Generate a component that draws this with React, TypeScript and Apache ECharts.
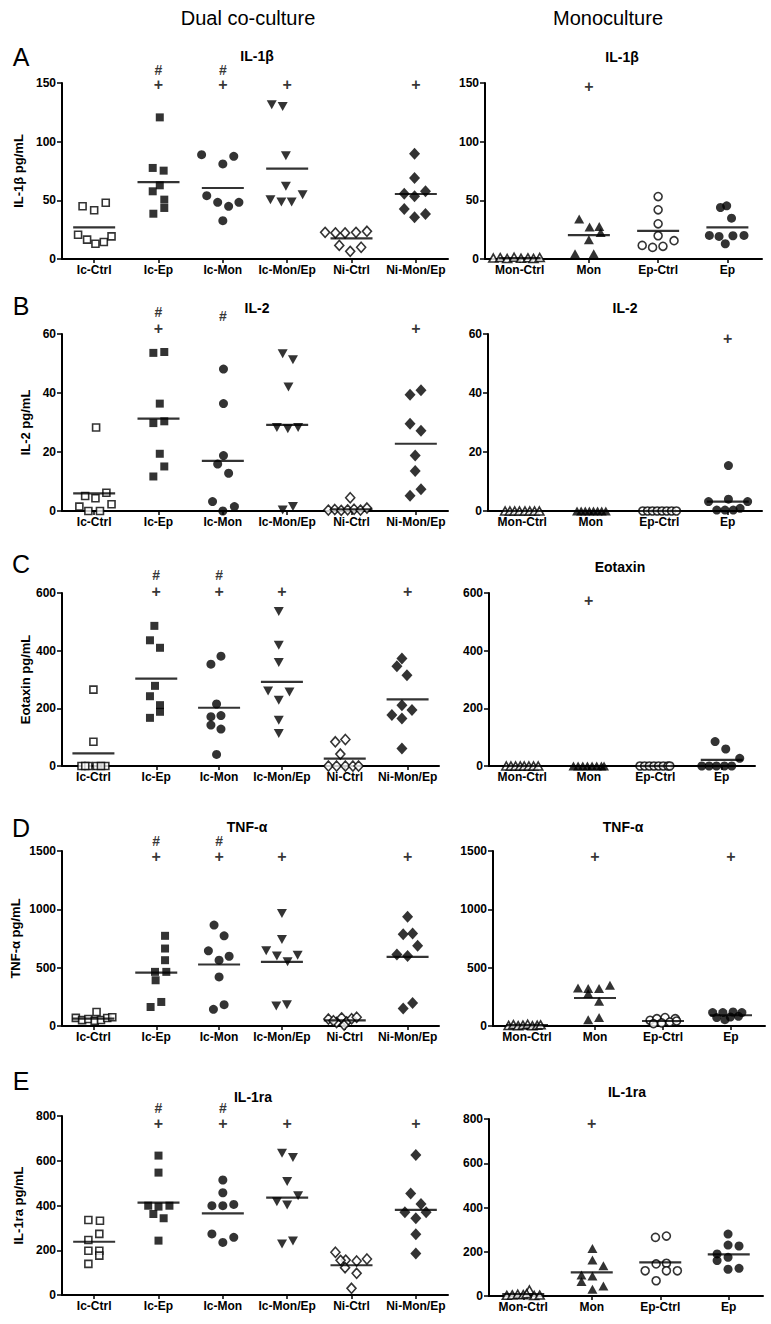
import React, { useEffect, useRef } from 'react';
import * as echarts from 'echarts';

// ---------- categories ----------
const dualCategories = ['Ic-Ctrl', 'Ic-Ep', 'Ic-Mon', 'Ic-Mon/Ep', 'Ni-Ctrl', 'Ni-Mon/Ep'];
const monoCategories = ['Mon-Ctrl', 'Mon', 'Ep-Ctrl', 'Ep'];

// ---------- A: IL-1β ----------
const il1bDualValues = [
  [44.9, 41.5, 48, 20.7, 16.5, 13, 14.5, 19.3],
  [120.7, 77.6, 75.3, 62.8, 57.7, 50.6, 38.6, 43.5],
  [88.9, 87.5, 81, 54, 48.3, 44.9, 48.3, 32.7],
  [131.5, 130, 88, 62, 50.6, 48.6, 48.6, 54.8],
  [22.7, 22.2, 22.2, 22.7, 23.6, 11.6, 6.5, 10],
  [89.8, 69, 55.7, 53.4, 57.7, 42.6, 35.5, 38.4],
];
const il1bDualJitter = [
  [-0.18, 0.0, 0.18, -0.25, -0.11, 0.02, 0.15, 0.27],
  [0.02, -0.09, 0.08, 0.02, -0.09, 0.09, -0.08, 0.09],
  [-0.33, 0.17, 0, -0.25, -0.08, 0.09, 0.25, 0],
  [-0.24, -0.07, -0.02, -0.02, -0.26, -0.09, 0.07, 0.24],
  [-0.41, -0.25, -0.1, 0.07, 0.24, -0.19, -0.02, 0.15],
  [-0.02, -0.02, -0.18, -0.02, 0.15, -0.18, -0.02, 0.15],
];
const il1bDualMeans = [27, 65.6, 60.5, 77, 17.6, 55.4];
const il1bDualPlus = [null, 149, 149, 149, null, 149];
const il1bDualHash = [null, 161, 161, null, null, null];

const il1bMonoValues = [
  [0.8, 1.2, 0.4, 1.5, 0.6, 1.0, 0.5, 1.3],
  [34, 27.2, 27.7, 22.6, 16.4, 4.5, 4.5],
  [53.2, 41.9, 30, 19.8, 11.6, 9.9, 10.8, 15.6],
  [43.9, 45.3, 34.8, 20.1, 19.2, 19.8, 20.1, 13],
];
const il1bMonoJitter = [
  [-0.38, -0.28, -0.18, -0.08, 0.02, 0.12, 0.2, 0.29],
  [-0.14, 0.01, 0.15, 0.17, 0.0, -0.2, 0.07],
  [0, 0, 0, 0, -0.23, -0.08, 0.07, 0.23],
  [-0.1, -0.01, 0.06, -0.26, -0.12, 0.08, 0.24, -0.03],
];
const il1bMonoMeans = [0.8, 20.4, 24, 26.9];
const il1bMonoPlus = [null, 146.6, null, null];
const il1bMonoHash = [null, null, null, null];

// ---------- B: IL-2 ----------
const il2DualValues = [
  [28.3, 5.1, 4.3, 6.2, 1.5, 0, 0, 2.3],
  [53.6, 53.9, 36.4, 29.8, 30.4, 19.4, 15.1, 11.7],
  [48.1, 36.4, 18.8, 15.9, 12.8, 3.2, 0, 1.5],
  [53.3, 51.3, 42, 28.3, 27.9, 28.3, 0.3, 1.5],
  [4.5, 0.3, 0.5, 0.2, 0.4, 0.6, 0.3, 1.0],
  [39.4, 40.9, 29.6, 27.2, 18.8, 13.6, 7.4, 5.2],
];
const il2DualJitter = [
  [0.03, -0.14, 0.02, 0.19, -0.23, -0.09, 0.09, 0.27],
  [-0.08, 0.09, 0.02, -0.08, 0.09, 0.02, 0.09, -0.08],
  [0.01, 0.01, 0.01, -0.08, 0.09, -0.16, 0, 0.18],
  [-0.07, 0.09, 0.02, -0.16, 0.01, 0.17, -0.07, 0.09],
  [-0.02, -0.36, -0.26, -0.16, -0.06, 0.04, 0.14, 0.24],
  [-0.09, 0.08, -0.09, 0.08, -0.01, -0.01, 0.08, -0.09],
];
const il2DualMeans = [6, 31.3, 17, 29.2, 0.6, 22.8];
const il2DualPlus = [null, 61.7, null, null, null, 61.7];
const il2DualHash = [null, 67.3, 66, null, null, null];

const il2MonoValues = [
  [0, 0, 0, 0, 0, 0, 0, 0],
  [0, 0, 0, 0, 0, 0, 0, 0],
  [0, 0, 0, 0, 0, 0, 0, 0],
  [15.4, 3.2, 4.0, 3.2, 0.3, 0.3, 0.3, 0.9],
];
const il2MonoJitter = [
  [-0.25, -0.18, -0.11, -0.04, 0.04, 0.11, 0.18, 0.25],
  [-0.2, -0.14, -0.08, -0.02, 0.04, 0.1, 0.16, 0.22],
  [-0.24, -0.17, -0.1, -0.03, 0.04, 0.11, 0.18, 0.25],
  [0.01, -0.28, 0.01, 0.29, -0.16, -0.04, 0.08, 0.18],
];
const il2MonoMeans = [0, 0, 0, 3.2];
const il2MonoPlus = [null, null, null, 58.5];
const il2MonoHash = [null, null, null, null];

// ---------- C: Eotaxin ----------
const eotDualValues = [
  [265, 84, 0, 0, 0, 0, 0, 0],
  [486, 436, 410, 278, 242, 211, 188, 167],
  [353, 381, 215, 171, 175, 142, 128, 40],
  [536, 419, 359, 260, 228, 257, 159, 113],
  [84, 92, 41.5, 0, 0, 0, 0, 0],
  [373, 346, 315, 211, 194, 177, 165, 61],
];
const eotDualJitter = [
  [0, 0, -0.19, -0.08, 0.05, 0.19, -0.13, 0.12],
  [-0.03, -0.1, 0.06, -0.02, -0.1, 0.06, 0.06, -0.1],
  [-0.13, 0.03, -0.04, -0.13, 0.03, -0.13, 0.03, -0.04],
  [-0.05, -0.05, -0.05, -0.22, -0.05, 0.12, -0.05, -0.05],
  [-0.15, 0.01, -0.07, -0.26, -0.13, 0.01, 0.13, 0.22],
  [-0.09, -0.17, -0.01, -0.09, 0.07, -0.25, -0.09, -0.09],
];
const eotDualMeans = [44, 303, 202, 292, 25.4, 231];
const eotDualPlus = [null, 606, 606, 606, null, 606];
const eotDualHash = [null, 661, 661, null, null, null];

const eotMonoValues = [
  [0, 0, 0, 0, 0, 0, 0, 0],
  [0, 0, 0, 0, 0, 0, 0, 0],
  [0, 0, 0, 0, 0, 0, 0, 0],
  [84.6, 59, 26.6, 0, 0, 0, 0, 0],
];
const eotMonoJitter = [
  [-0.24, -0.17, -0.1, -0.03, 0.03, 0.1, 0.17, 0.24],
  [-0.23, -0.16, -0.09, -0.02, 0.05, 0.12, 0.19, 0.23],
  [-0.23, -0.16, -0.09, -0.02, 0.05, 0.12, 0.19, 0.22],
  [-0.1, 0.06, 0.27, -0.3, -0.19, -0.08, 0.04, 0.15],
];
const eotMonoMeans = [0, 0, 0, 21];
const eotMonoPlus = [null, 574.6, null, null];
const eotMonoHash = [null, null, null, null];

// ---------- D: TNF-α ----------
const tnfDualValues = [
  [120, 70, 50, 60, 45, 52, 68, 75],
  [773, 664, 564, 464, 464, 392, 206, 163],
  [865, 773, 644, 598, 564, 421, 143, 183],
  [965, 741, 644, 601, 550, 607, 172, 183],
  [60, 30, 70, 35, 62, 75, 8, 45],
  [936, 787, 793, 687, 613, 601, 198, 149],
];
const tnfDualJitter = [
  [0.05, -0.28, -0.18, -0.08, 0.02, 0.12, 0.22, 0.3],
  [0.14, 0.14, 0.14, -0.02, 0.16, -0.01, 0.08, -0.09],
  [-0.08, 0.08, -0.17, 0.16, 0, 0, -0.09, 0.08],
  [0, 0, -0.25, -0.08, 0.09, 0.25, -0.09, 0.08],
  [-0.26, -0.13, -0.05, 0.03, 0.11, 0.19, -0.01, -0.18],
  [0, -0.07, 0.08, 0.16, -0.17, 0, 0.08, -0.07],
];
const tnfDualMeans = [63, 458, 527, 550, 49, 593];
const tnfDualPlus = [null, 1457, 1457, 1457, null, 1457];
const tnfDualHash = [null, 1586, 1586, null, null, null];

const tnfMonoValues = [
  [5, 12, 3, 8, 15, 2, 6, 10],
  [326, 321, 321, 349, 278, 212, 54, 72],
  [49, 63, 72, 63, 20, 26, 34, 43],
  [115, 115, 120, 115, 72, 54, 77, 83],
];
const tnfMonoJitter = [
  [-0.27, -0.2, -0.13, -0.06, 0.01, 0.08, 0.15, 0.2],
  [-0.25, -0.1, 0.06, 0.22, -0.1, 0.06, -0.1, 0.06],
  [-0.19, -0.09, 0.03, 0.18, -0.14, -0.02, 0.1, 0.2],
  [-0.27, -0.12, 0.03, 0.16, -0.21, -0.09, -0.01, 0.11],
];
const tnfMonoMeans = [7, 240, 43, 92];
const tnfMonoPlus = [null, 1457, null, 1457];
const tnfMonoHash = [null, null, null, null];

// ---------- E: IL-1ra ----------
const il1raDualValues = [
  [335, 332, 273, 246, 198, 198, 176, 139],
  [623, 547, 399, 395, 399, 362, 343, 243],
  [514, 457, 399, 399, 405, 273, 235, 258],
  [633, 615, 507, 417, 402, 444, 228, 241],
  [191, 156, 152, 161, 122, 97, 30, 155],
  [626, 454, 407, 370, 370, 343, 271, 186],
];
const il1raDualJitter = [
  [-0.09, 0.09, 0.08, -0.09, -0.09, 0.08, 0.08, -0.09],
  [0, 0, -0.16, 0, 0.17, -0.08, 0.08, 0],
  [0, 0, -0.17, 0, 0.17, -0.17, 0, 0.17],
  [-0.08, 0.09, 0, -0.16, 0, 0.17, -0.08, 0.09],
  [-0.25, -0.09, 0.08, 0.24, -0.1, 0.08, 0, -0.17],
  [0, -0.08, 0.08, -0.17, 0.16, 0, 0, 0],
];
const il1raDualMeans = [238, 413, 365, 435, 133, 380];
const il1raDualPlus = [null, 767, 767, 767, null, 767];
const il1raDualHash = [null, 835, 835, null, null, null];

const il1raMonoValues = [
  [3, 5, 8, 27, 6, 2, 4, 10],
  [215, 163, 137, 95, 90, 65, 45, 30],
  [265, 271, 114, 145, 148, 114, 114, 69],
  [280, 230, 226, 190, 160, 175, 121, 125],
];
const il1raMonoJitter = [
  [-0.24, -0.16, -0.08, 0.09, 0.0, 0.16, 0.24, 0.05],
  [0.01, 0.01, 0.17, -0.15, 0.01, -0.15, 0.17, 0.01],
  [-0.07, 0.09, -0.22, -0.06, 0.09, 0.09, 0.25, -0.06],
  [-0.01, -0.01, 0.15, -0.17, -0.17, -0.01, -0.01, 0.15],
];
const il1raMonoMeans = [9, 107, 152, 188];
const il1raMonoPlus = [null, 780, null, null];
const il1raMonoHash = [null, null, null, null];

// ---------- styling (not data) ----------
const FONT = 'Arial, "Liberation Sans", Helvetica, sans-serif';

const OPEN = { color: '#ffffff', borderColor: '#000000', borderWidth: 1.6 };
const FILL = { color: '#000000' };

const dualMarkers = [
  { symbol: 'rect', size: 7, rotate: 0, style: OPEN },
  { symbol: 'rect', size: 8, rotate: 0, style: FILL },
  { symbol: 'circle', size: 9, rotate: 0, style: FILL },
  { symbol: 'triangle', size: [10, 9], rotate: 180, style: FILL },
  { symbol: 'diamond', size: [9, 10], rotate: 0, style: OPEN },
  { symbol: 'diamond', size: [11, 12], rotate: 0, style: FILL },
];
const monoMarkers = [
  { symbol: 'triangle', size: [9, 8], rotate: 0, style: OPEN },
  { symbol: 'triangle', size: [10, 9], rotate: 0, style: FILL },
  { symbol: 'circle', size: 8, rotate: 0, style: OPEN },
  { symbol: 'circle', size: 9, rotate: 0, style: FILL },
];

type PanelDef = {
  cats: string[];
  values: number[][];
  jitter: number[][];
  means: number[];
  plus: (number | null)[];
  hash: (number | null)[];
  max: number;
  interval: number;
  yName: string;
  nameGap: number;
  title: string | null;
  titleX: number;
  titleY: number;
  markers: any[];
  left: number;
  top: number;
  width: number;
  height: number;
};

const panels: PanelDef[] = [
  { cats: dualCategories, values: il1bDualValues, jitter: il1bDualJitter, means: il1bDualMeans, plus: il1bDualPlus, hash: il1bDualHash,
    max: 150, interval: 50, yName: 'IL-1β pg/mL', nameGap: 27, title: 'IL-1β', titleX: 257, titleY: 56, markers: dualMarkers,
    left: 62, top: 83, width: 386, height: 176 },
  { cats: monoCategories, values: il1bMonoValues, jitter: il1bMonoJitter, means: il1bMonoMeans, plus: il1bMonoPlus, hash: il1bMonoHash,
    max: 150, interval: 50, yName: '', nameGap: 0, title: 'IL-1β', titleX: 622, titleY: 57, markers: monoMarkers,
    left: 485, top: 83, width: 277, height: 176 },
  { cats: dualCategories, values: il2DualValues, jitter: il2DualJitter, means: il2DualMeans, plus: il2DualPlus, hash: il2DualHash,
    max: 60, interval: 20, yName: 'IL-2 pg/mL', nameGap: 27, title: 'IL-2', titleX: 257, titleY: 308, markers: dualMarkers,
    left: 62, top: 334, width: 386, height: 177 },
  { cats: monoCategories, values: il2MonoValues, jitter: il2MonoJitter, means: il2MonoMeans, plus: il2MonoPlus, hash: il2MonoHash,
    max: 60, interval: 20, yName: '', nameGap: 0, title: 'IL-2', titleX: 625, titleY: 308, markers: monoMarkers,
    left: 488, top: 334, width: 274, height: 177 },
  { cats: dualCategories, values: eotDualValues, jitter: eotDualJitter, means: eotDualMeans, plus: eotDualPlus, hash: eotDualHash,
    max: 600, interval: 200, yName: 'Eotaxin pg/mL', nameGap: 30, title: null, titleX: 0, titleY: 0, markers: dualMarkers,
    left: 62, top: 593, width: 377, height: 173 },
  { cats: monoCategories, values: eotMonoValues, jitter: eotMonoJitter, means: eotMonoMeans, plus: eotMonoPlus, hash: eotMonoHash,
    max: 600, interval: 200, yName: '', nameGap: 0, title: 'Eotaxin', titleX: 620, titleY: 567, markers: monoMarkers,
    left: 489, top: 593, width: 266, height: 173 },
  { cats: dualCategories, values: tnfDualValues, jitter: tnfDualJitter, means: tnfDualMeans, plus: tnfDualPlus, hash: tnfDualHash,
    max: 1500, interval: 500, yName: 'TNF-α pg/mL', nameGap: 40, title: 'TNF-α', titleX: 247, titleY: 827, markers: dualMarkers,
    left: 62, top: 851, width: 377, height: 175 },
  { cats: monoCategories, values: tnfMonoValues, jitter: tnfMonoJitter, means: tnfMonoMeans, plus: tnfMonoPlus, hash: tnfMonoHash,
    max: 1500, interval: 500, yName: '', nameGap: 0, title: 'TNF-α', titleX: 623, titleY: 827, markers: monoMarkers,
    left: 493, top: 851, width: 272, height: 175 },
  { cats: dualCategories, values: il1raDualValues, jitter: il1raDualJitter, means: il1raDualMeans, plus: il1raDualPlus, hash: il1raDualHash,
    max: 800, interval: 200, yName: 'IL-1ra pg/mL', nameGap: 37, title: 'IL-1ra', titleX: 253, titleY: 1097, markers: dualMarkers,
    left: 62, top: 1116, width: 386, height: 179 },
  { cats: monoCategories, values: il1raMonoValues, jitter: il1raMonoJitter, means: il1raMonoMeans, plus: il1raMonoPlus, hash: il1raMonoHash,
    max: 800, interval: 200, yName: '', nameGap: 0, title: 'IL-1ra', titleX: 627, titleY: 1092, markers: monoMarkers,
    left: 489, top: 1119, width: 274, height: 177 },
];

const letters = [
  { t: 'A', y: 57 },
  { t: 'B', y: 306 },
  { t: 'C', y: 564 },
  { t: 'D', y: 828 },
  { t: 'E', y: 1081 },
];

function textEl(text: string, x: number, y: number, size: number, weight: string) {
  return {
    type: 'text',
    x,
    y,
    silent: true,
    style: {
      text,
      fill: '#000',
      fontSize: size,
      fontWeight: weight,
      fontFamily: FONT,
      textAlign: 'center',
      textVerticalAlign: 'middle',
      align: 'center',
      verticalAlign: 'middle',
    },
  };
}

function buildOption() {
  const grid: any[] = [];
  const xAxis: any[] = [];
  const yAxis: any[] = [];
  const series: any[] = [];
  const graphic: any[] = [];

  graphic.push(textEl('Dual co-culture', 248, 18, 20, 'normal'));
  graphic.push(textEl('Monoculture', 608, 18, 20, 'normal'));
  letters.forEach((l) => graphic.push(textEl(l.t, 21, l.y, 25, 'normal')));

  panels.forEach((p, i) => {
    grid.push({ left: p.left, top: p.top, width: p.width, height: p.height, containLabel: false });
    xAxis.push({
      type: 'category',
      gridIndex: i,
      data: p.cats,
      axisLine: { show: true, onZero: false, lineStyle: { color: '#000', width: 2 } },
      axisTick: { show: true, alignWithLabel: true, interval: 0, length: 4, lineStyle: { color: '#000', width: 1.5 } },
      axisLabel: { interval: 0, color: '#000', fontSize: 12, fontWeight: 'bold', fontFamily: FONT, margin: 5 },
      splitLine: { show: false },
    });
    xAxis.push({ type: 'value', gridIndex: i, min: -0.5, max: p.cats.length - 0.5, show: false });
    yAxis.push({
      type: 'value',
      gridIndex: i,
      position: 'left',
      min: 0,
      max: p.max,
      interval: p.interval,
      name: p.yName,
      nameLocation: 'middle',
      nameGap: p.nameGap,
      nameRotate: 90,
      nameTextStyle: { color: '#000', fontSize: 13, fontWeight: 'bold', fontFamily: FONT },
      axisLine: { show: true, onZero: false, lineStyle: { color: '#000', width: 2 } },
      axisTick: { show: true, length: 5, lineStyle: { color: '#000', width: 1.5 } },
      axisLabel: {
        color: '#000', fontSize: 12, fontWeight: 'bold', fontFamily: FONT, margin: 6,
        formatter: (v: number) => String(v),
      },
      splitLine: { show: false },
    });

    const xi = i * 2 + 1;
    p.values.forEach((vals, g) => {
      const m = p.markers[g];
      series.push({
        type: 'scatter',
        name: p.cats[g],
        xAxisIndex: xi,
        yAxisIndex: i,
        symbol: m.symbol,
        symbolSize: m.size,
        symbolRotate: m.rotate,
        itemStyle: m.style,
        data: vals.map((v, j) => [g + p.jitter[g][j], v]),
        z: 3,
        clip: false,
        silent: true,
      });
    });
    series.push({
      type: 'scatter',
      name: 'mean',
      xAxisIndex: xi,
      yAxisIndex: i,
      symbol: 'rect',
      symbolSize: [42, 2.2],
      itemStyle: { color: '#000' },
      data: p.means.map((m, g) => [g, m]),
      z: 4,
      clip: false,
      silent: true,
    });
    const marks: any[] = [];
    p.plus.forEach((v, g) => {
      if (v !== null) marks.push({ value: [g, v], label: { formatter: '+', fontSize: 16, lineHeight: 11 } });
    });
    p.hash.forEach((v, g) => {
      if (v !== null) marks.push({ value: [g, v], label: { formatter: '#', fontSize: 14, lineHeight: 11 } });
    });
    if (marks.length) {
      series.push({
        type: 'scatter',
        name: 'marks',
        xAxisIndex: xi,
        yAxisIndex: i,
        symbol: 'circle',
        symbolSize: 1,
        itemStyle: { color: 'rgba(0,0,0,0)' },
        label: { show: true, position: 'inside', color: '#000', fontWeight: 'bold', fontFamily: FONT },
        data: marks,
        z: 5,
        clip: false,
        silent: true,
      });
    }
    if (p.title) graphic.push(textEl(p.title, p.titleX, p.titleY, 14, 'bold'));
  });

  return {
    animation: false,
    backgroundColor: '#ffffff',
    textStyle: { fontFamily: FONT },
    grid,
    xAxis,
    yAxis,
    series,
    graphic,
  };
}

export default function App() {
  const ref = useRef<HTMLDivElement>(null);
  useEffect(() => {
    if (!ref.current) return;
    const chart = echarts.init(ref.current, null, { renderer: 'svg' });
    chart.setOption(buildOption() as any);
    return () => chart.dispose();
  }, []);
  return (
    <div
      ref={ref}
      style={{ position: 'absolute', left: 0, top: 0, width: 771, height: 1324, background: '#fff' }}
    />
  );
}
